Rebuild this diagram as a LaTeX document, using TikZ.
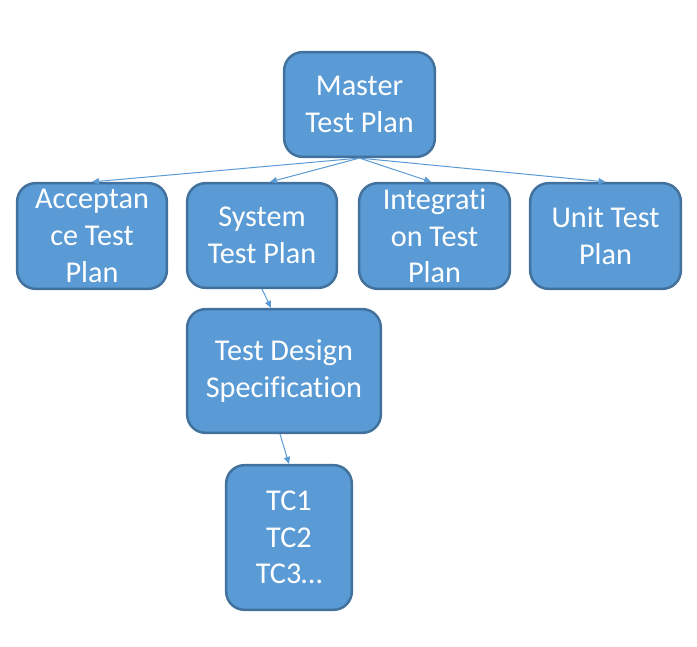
\documentclass[tikz,border=0pt]{standalone}
\usepackage{fontspec}
\setmainfont{Carlito}[Ligatures=NoCommon]
\usetikzlibrary{arrows.meta}
\definecolor{boxfill}{HTML}{5B9BD5}
\definecolor{boxline}{HTML}{41719C}
\tikzset{
	planbox/.style={draw=boxline, fill=boxfill, line width=0.075cm, rounded corners=0.55cm,
		text=white, align=center, inner sep=0pt, font=\fontsize{25.8}{31.3}\selectfont},
	planarrow/.style={draw=boxfill, line width=0.03cm, -{Triangle[length=0.21cm,width=0.19cm]}}
}

\begin{document}
\begin{tikzpicture}[x=0.03cm, y=-0.03cm]
			%%%%% START %%%%%
			
			\useasboundingbox (0, 0) rectangle (697, 647);
			
			\node[planbox, minimum width=4.52cm, minimum height=3.14cm] (master) at (359.5, 104.5) {Master\\Test Plan};
			
			\node[planbox, minimum width=4.49cm, minimum height=3.17cm] (accept) at (92, 236) {Acceptan\\ce Test\\Plan};
			\node[planbox, minimum width=4.49cm, minimum height=3.14cm] (system) at (262, 235.5) {System\\Test Plan};
			\node[planbox, minimum width=4.52cm, minimum height=3.17cm] (integ) at (434.5, 236) {Integrati\\on Test\\Plan};
			\node[planbox, minimum width=4.52cm, minimum height=3.17cm] (unit) at (605.5, 236) {Unit Test\\Plan};
			
			\node[planbox, minimum width=5.81cm, minimum height=3.71cm] (design) at (284, 371) {Test Design\\Specification};
			
			\node[planbox, minimum width=3.77cm, minimum height=4.34cm] (cases) at (289, 537.5) {TC1\\TC2\\TC3…};
			
			\draw[planarrow] (master.south) -- (accept.north);
			\draw[planarrow] (master.south) -- ([xshift=0.24cm]system.north);
			\draw[planarrow] (master.south) -- ([xshift=-0.1cm]integ.north);
			\draw[planarrow] (master.south) -- (unit.north);
			
			\draw[planarrow] (system.south) -- ([xshift=-0.39cm]design.north);
			\draw[planarrow] ([xshift=-0.12cm]design.south) -- (cases.north);
			
			%%%%% END %%%%%
		\end{tikzpicture}
\end{document}
